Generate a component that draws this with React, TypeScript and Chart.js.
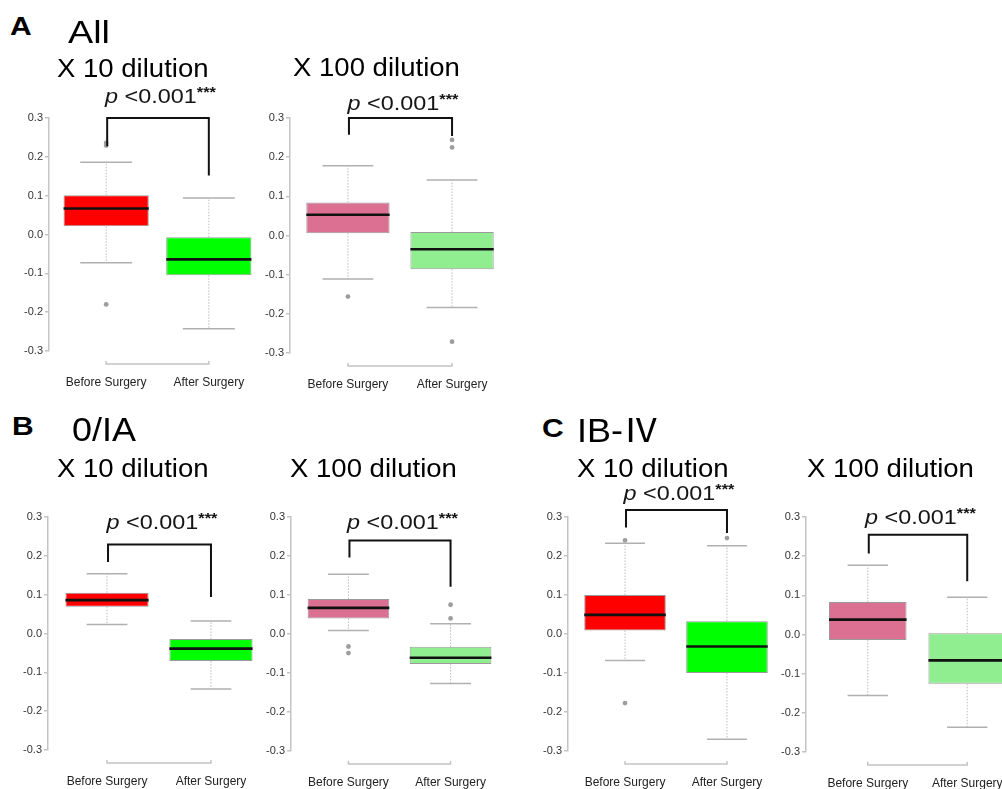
import React, { useEffect, useRef } from 'react';
import { Chart, registerables } from 'chart.js';

Chart.register(...registerables);

// ---------- shared labels ----------
const categories = ['Before Surgery', 'After Surgery'];
const categoryPositions = [1, 2];
const yTicks = [-0.3, -0.2, -0.1, 0, 0.1, 0.2, 0.3];
const pValueParts = ['p', ' <', '0.001', '***'];

const x10Colors = ['#FF0000', '#00FF00'];
const x100Colors = ['#DB7093', '#90EE90'];

// ---------- A: All, x10 ----------
const aX10Q1 = [0.021, -0.105];
const aX10Median = [0.067, -0.064];
const aX10Q3 = [0.101, -0.007];
const aX10Lower = [-0.073, -0.243];
const aX10Upper = [0.186, 0.094];
const aX10Outliers = [[0.236, 0.229, -0.18], []];
const aX10Bracket = [0.227, 0.3, 0.152, 0.339]; // left end, top, right end, label level

// ---------- A: All, x100 ----------
const aX100Q1 = [0.006, -0.086];
const aX100Median = [0.053, -0.035];
const aX100Q3 = [0.084, 0.009];
const aX100Lower = [-0.111, -0.184];
const aX100Upper = [0.178, 0.142];
const aX100Outliers = [[-0.156], [0.244, 0.225, -0.271]];
const aX100Bracket = [0.257, 0.3, 0.254, 0.321];

// ---------- B: 0/IA, x10 ----------
const bX10Q1 = [0.069, -0.071];
const bX10Median = [0.086, -0.039];
const bX10Q3 = [0.105, -0.014];
const bX10Lower = [0.023, -0.143];
const bX10Upper = [0.154, 0.032];
const bX10Outliers = [[], []];
const bX10Bracket = [0.184, 0.229, 0.094, 0.27];

// ---------- B: 0/IA, x100 ----------
const bX100Q1 = [0.04, -0.077];
const bX100Median = [0.067, -0.061];
const bX100Q3 = [0.09, -0.033];
const bX100Lower = [0.009, -0.127];
const bX100Upper = [0.153, 0.026];
const bX100Outliers = [[-0.032, -0.049], [0.075, 0.04]];
const bX100Bracket = [0.196, 0.24, 0.121, 0.27];

// ---------- C: IB-IV, x10 ----------
const cX10Q1 = [0.009, -0.1];
const cX10Median = [0.049, -0.032];
const cX10Q3 = [0.1, 0.033];
const cX10Lower = [-0.068, -0.27];
const cX10Upper = [0.233, 0.226];
const cX10Outliers = [[0.24, -0.177], [0.246]];
const cX10Bracket = [0.273, 0.318, 0.259, 0.344];

// ---------- C: IB-IV, x100 ----------
const cX100Q1 = [-0.014, -0.126];
const cX100Median = [0.038, -0.066];
const cX100Q3 = [0.083, 0.003];
const cX100Lower = [-0.156, -0.237];
const cX100Upper = [0.177, 0.095];
const cX100Outliers = [[], []];
const cX100Bracket = [0.207, 0.255, 0.136, 0.283];

const FONT = '"Liberation Sans", Arial, Helvetica, sans-serif';

type Geo = {
  axisX: number;
  top: number;
  bottom: number;
  c1: number;
  spacing: number;
  boxPct: number;
  capPct: number;
};

type BoxSpec = {
  q1: number[];
  median: number[];
  q3: number[];
  lower: number[];
  upper: number[];
  outliers: number[][];
  bracket: number[];
  colors: string[];
  geo: Geo;
};

const specs: BoxSpec[] = [
  {
    q1: aX10Q1, median: aX10Median, q3: aX10Q3, lower: aX10Lower, upper: aX10Upper,
    outliers: aX10Outliers, bracket: aX10Bracket, colors: x10Colors,
    geo: { axisX: 49.3, top: 118.3, bottom: 351.7, c1: 107.5, spacing: 104.5, boxPct: 0.83, capPct: 0.61 },
  },
  {
    q1: aX100Q1, median: aX100Median, q3: aX100Q3, lower: aX100Lower, upper: aX100Upper,
    outliers: aX100Outliers, bracket: aX100Bracket, colors: x100Colors,
    geo: { axisX: 290, top: 118.3, bottom: 353.3, c1: 349, spacing: 106, boxPct: 0.8, capPct: 0.61 },
  },
  {
    q1: bX10Q1, median: bX10Median, q3: bX10Q3, lower: bX10Lower, upper: bX10Upper,
    outliers: bX10Outliers, bracket: bX10Bracket, colors: x10Colors,
    geo: { axisX: 48.3, top: 517.3, bottom: 750.7, c1: 107.3, spacing: 103.9, boxPct: 0.8, capPct: 0.49 },
  },
  {
    q1: bX100Q1, median: bX100Median, q3: bX100Q3, lower: bX100Lower, upper: bX100Upper,
    outliers: bX100Outliers, bracket: bX100Bracket, colors: x100Colors,
    geo: { axisX: 291.3, top: 517.3, bottom: 751.7, c1: 349.7, spacing: 103.8, boxPct: 0.8, capPct: 0.5 },
  },
  {
    q1: cX10Q1, median: cX10Median, q3: cX10Q3, lower: cX10Lower, upper: cX10Upper,
    outliers: cX10Outliers, bracket: cX10Bracket, colors: x10Colors,
    geo: { axisX: 568.3, top: 517.3, bottom: 751.7, c1: 626.3, spacing: 103.7, boxPct: 0.8, capPct: 0.49 },
  },
  {
    q1: cX100Q1, median: cX100Median, q3: cX100Q3, lower: cX100Lower, upper: cX100Upper,
    outliers: cX100Outliers, bracket: cX100Bracket, colors: x100Colors,
    geo: { axisX: 805.7, top: 517.3, bottom: 752.3, c1: 867.5, spacing: 99.5, boxPct: 0.78, capPct: 0.52 },
  },
];

const Y_AXIS_W = 42;
const PAD_TOP = 72;
const X_AXIS_H = 46;

const boxPlugin = {
  id: 'boxExtras',
  afterDatasetsDraw(chart: any, _args: any, opts: any) {
    const spec: BoxSpec = opts.spec;
    if (!spec) return;
    const { ctx } = chart;
    const y = chart.scales.y;
    const meta = chart.getDatasetMeta(0);
    ctx.save();
    meta.data.forEach((bar: any, i: number) => {
      const cx = bar.x;
      const w = bar.width;
      const yq1 = y.getPixelForValue(spec.q1[i]);
      const yq3 = y.getPixelForValue(spec.q3[i]);
      const ylo = y.getPixelForValue(spec.lower[i]);
      const yhi = y.getPixelForValue(spec.upper[i]);
      const ymed = y.getPixelForValue(spec.median[i]);
      // dotted whiskers
      ctx.strokeStyle = '#bdbdbd';
      ctx.lineWidth = 1;
      ctx.setLineDash([1.5, 1.5]);
      ctx.beginPath();
      ctx.moveTo(cx, yq3);
      ctx.lineTo(cx, yhi);
      ctx.moveTo(cx, yq1);
      ctx.lineTo(cx, ylo);
      ctx.stroke();
      // caps
      ctx.setLineDash([]);
      ctx.strokeStyle = '#b0b0b0';
      ctx.lineWidth = 1.5;
      const half = (w * spec.geo.capPct) / 2;
      ctx.beginPath();
      ctx.moveTo(cx - half, yhi);
      ctx.lineTo(cx + half, yhi);
      ctx.moveTo(cx - half, ylo);
      ctx.lineTo(cx + half, ylo);
      ctx.stroke();
      // median
      ctx.strokeStyle = '#111';
      ctx.lineWidth = 2.6;
      ctx.beginPath();
      ctx.moveTo(cx - w / 2, ymed);
      ctx.lineTo(cx + w / 2, ymed);
      ctx.stroke();
    });
    ctx.restore();
  },
  afterDraw(chart: any, _args: any, opts: any) {
    const spec: BoxSpec = opts.spec;
    if (!spec) return;
    const { ctx, chartArea } = chart;
    const x = chart.scales.x;
    const y = chart.scales.y;
    const xl = x.getPixelForValue(categoryPositions[0]);
    const xr = x.getPixelForValue(categoryPositions[1]);
    ctx.save();
    // x axis line (R style, between first and last tick)
    const ay = chartArea.bottom + 13;
    ctx.strokeStyle = '#c4c4c4';
    ctx.lineWidth = 1.5;
    ctx.beginPath();
    ctx.moveTo(xl, ay - 3);
    ctx.lineTo(xl, ay);
    ctx.lineTo(xr, ay);
    ctx.lineTo(xr, ay - 3);
    ctx.stroke();
    // significance bracket
    const [lEnd, topV, rEnd, textV] = spec.bracket;
    ctx.strokeStyle = '#111';
    ctx.lineWidth = 2;
    ctx.lineJoin = 'miter';
    ctx.beginPath();
    ctx.moveTo(xl + 1, y.getPixelForValue(lEnd));
    ctx.lineTo(xl + 1, y.getPixelForValue(topV));
    ctx.lineTo(xr, y.getPixelForValue(topV));
    ctx.lineTo(xr, y.getPixelForValue(rEnd));
    ctx.stroke();
    // p value text
    const fonts = [`italic 20px ${FONT}`, `20px ${FONT}`, `20px ${FONT}`, `bold 14px ${FONT}`];
    const dys = [0, 0, 0, -6];
    let total = 0;
    const widths = pValueParts.map((t, i) => {
      ctx.font = fonts[i];
      const m = ctx.measureText(t).width;
      total += m;
      return m;
    });
    const sx = 1.17;
    const cxText = (xl + xr) / 2 + 3;
    const base = y.getPixelForValue(textV);
    ctx.translate(cxText, base);
    ctx.scale(sx, 1);
    ctx.fillStyle = '#151515';
    ctx.textBaseline = 'alphabetic';
    ctx.textAlign = 'left';
    let cur = -total / 2;
    pValueParts.forEach((t, i) => {
      ctx.font = fonts[i];
      ctx.fillText(t, cur, dys[i]);
      cur += widths[i];
    });
    ctx.restore();
  },
};

function BoxChart({ spec }: { spec: BoxSpec }) {
  const ref = useRef<HTMLCanvasElement | null>(null);
  const g = spec.geo;
  const margin = (g.c1 - g.axisX) / g.spacing;
  const xMin = categoryPositions[0] - margin;
  const xMax = categoryPositions[1] + margin;
  const areaW = Math.round(g.spacing * (xMax - xMin));
  const areaH = Math.round(g.bottom - g.top);
  const width = Y_AXIS_W + areaW;
  const height = PAD_TOP + areaH + X_AXIS_H;
  const left = Math.round(g.axisX - Y_AXIS_W);
  const top = Math.round(g.top - PAD_TOP);

  useEffect(() => {
    if (!ref.current) return;
    const boxData = categoryPositions.map((xv, i) => ({ x: xv, y: [spec.q1[i], spec.q3[i]] }));
    const outlierData = spec.outliers.flatMap((arr, i) =>
      arr.map((v) => ({ x: categoryPositions[i], y: v }))
    );
    const chart = new Chart(ref.current, {
      type: 'bar',
      data: {
        datasets: [
          {
            type: 'bar',
            data: boxData as any,
            backgroundColor: spec.colors,
            borderColor: '#9a9a9a',
            borderWidth: 1,
            borderSkipped: false,
            categoryPercentage: 1,
            barPercentage: g.boxPct,
            order: 2,
          } as any,
          {
            type: 'line',
            data: outlierData as any,
            showLine: false,
            pointRadius: 2.4,
            pointBackgroundColor: '#9d9d9d',
            pointBorderColor: '#9d9d9d',
            pointBorderWidth: 0,
            order: 1,
          } as any,
        ],
      },
      options: {
        responsive: false,
        animation: false,
        events: [],
        layout: { padding: { top: PAD_TOP, left: 0, right: 0, bottom: 0 } },
        plugins: {
          legend: { display: false },
          tooltip: { enabled: false },
          title: { display: false },
          boxExtras: { spec },
        } as any,
        scales: {
          x: {
            type: 'linear',
            offset: false,
            min: xMin,
            max: xMax,
            grid: { display: false, drawTicks: true, tickLength: 21, offset: false },
            border: { display: false },
            ticks: {
              padding: 3,
              autoSkip: false,
              maxRotation: 0,
              font: { family: FONT, size: 12 },
              color: '#222',
              callback: (v: any) => {
                const i = categoryPositions.indexOf(Number(v));
                return i >= 0 ? categories[i] : '';
              },
            },
            afterBuildTicks: (s: any) => {
              s.ticks = categoryPositions.map((v) => ({ value: v }));
            },
            afterFit: (s: any) => {
              s.height = X_AXIS_H;
              s.paddingLeft = 0;
              s.paddingRight = 0;
            },
          },
          y: {
            type: 'linear',
            min: yTicks[0],
            max: yTicks[yTicks.length - 1],
            grid: {
              display: true,
              drawOnChartArea: false,
              drawTicks: true,
              tickLength: 4,
              color: '#c4c4c4',
              lineWidth: 1.5,
            },
            border: { display: true, color: '#c4c4c4', width: 1.5 },
            ticks: {
              padding: 2,
              font: { family: FONT, size: 11 },
              color: '#333',
              callback: (v: any) => (Math.abs(Number(v)) < 1e-9 ? '0.0' : Number(v).toFixed(1)),
            },
            afterBuildTicks: (s: any) => {
              s.ticks = yTicks.map((v) => ({ value: v }));
            },
            afterFit: (s: any) => {
              s.width = Y_AXIS_W;
              s.paddingTop = 0;
              s.paddingBottom = 0;
            },
          },
        },
      } as any,
      plugins: [boxPlugin as any],
    });
    return () => chart.destroy();
  }, []);

  return (
    <canvas
      ref={ref}
      width={width}
      height={height}
      style={{ position: 'absolute', left, top, width, height, zIndex: 1 }}
    />
  );
}

type Heading = { parts: string[]; x: number; baseline: number; size: number; bold?: boolean; sx: number };

const headings: Heading[] = [
  { parts: ['A'], x: 10, baseline: 35, size: 25, bold: true, sx: 1.2 },
  { parts: ['All'], x: 68, baseline: 43, size: 32, sx: 1.18 },
  { parts: ['X 10 dilution'], x: 57, baseline: 78, size: 25.5, sx: 1.08 },
  { parts: ['X 100 dilution'], x: 293, baseline: 77, size: 25.5, sx: 1.08 },
  { parts: ['B'], x: 12, baseline: 435, size: 25, bold: true, sx: 1.2 },
  { parts: ['0/IA'], x: 72, baseline: 441, size: 33, sx: 1.09 },
  { parts: ['X 10 dilution'], x: 57, baseline: 478, size: 25.5, sx: 1.08 },
  { parts: ['X 100 dilution'], x: 290, baseline: 478, size: 25.5, sx: 1.08 },
  { parts: ['C'], x: 542, baseline: 437, size: 25, bold: true, sx: 1.2 },
  { parts: ['IB-', 'Ⅳ'], x: 577, baseline: 442, size: 33, sx: 1.09 },
  { parts: ['X 10 dilution'], x: 577, baseline: 478, size: 25.5, sx: 1.08 },
  { parts: ['X 100 dilution'], x: 807, baseline: 478, size: 25.5, sx: 1.08 },
];

function HeadingText({ h }: { h: Heading }) {
  const top = h.baseline - 0.8465 * h.size;
  return (
    <div
      style={{
        position: 'absolute',
        left: h.x,
        top,
        height: h.size,
        fontSize: h.size,
        lineHeight: `${h.size}px`,
        fontFamily: FONT,
        fontWeight: h.bold ? 700 : 400,
        transform: `scaleX(${h.sx})`,
        transformOrigin: 'left top',
        whiteSpace: 'nowrap',
        color: '#000',
        zIndex: 2,
      }}
    >
      {h.parts.map((p, i) => (
        <span
          key={i}
          style={i > 0 ? { fontFamily: '"Noto Sans CJK JP", "DejaVu Sans", sans-serif', verticalAlign: 'baseline', lineHeight: '1px' } : undefined}
        >
          {p}
        </span>
      ))}
    </div>
  );
}

export default function App() {
  return (
    <div
      style={{
        position: 'fixed',
        left: 0,
        top: 0,
        width: 1002,
        height: 789,
        overflow: 'hidden',
        background: '#fff',
      }}
    >
      {specs.map((s, i) => (
        <BoxChart key={i} spec={s} />
      ))}
      {headings.map((h, i) => (
        <HeadingText key={i} h={h} />
      ))}
    </div>
  );
}
